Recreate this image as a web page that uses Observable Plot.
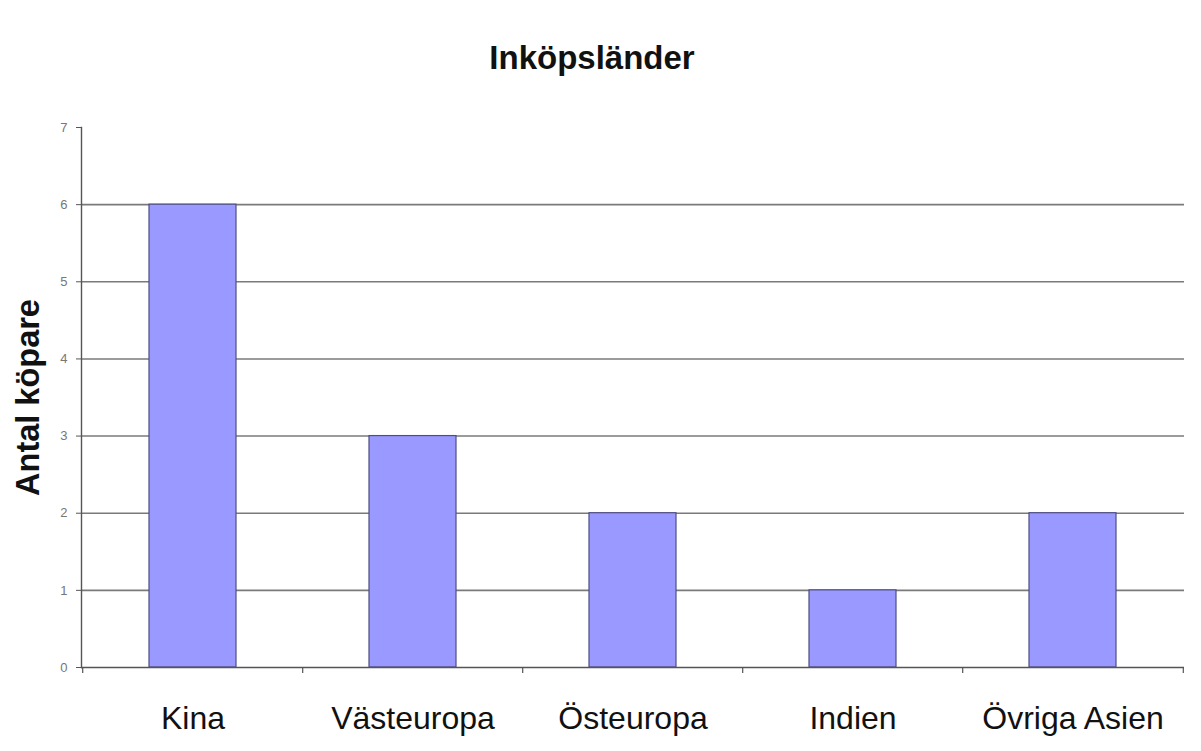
<!DOCTYPE html>
<html>
<head>
<meta charset="utf-8">
<script src="https://cdn.jsdelivr.net/npm/d3@7"></script>
<script src="https://cdn.jsdelivr.net/npm/@observablehq/plot@0.6"></script>
<style>
  html, body { margin: 0; padding: 0; background: #fff; }
  svg { display: block; }
</style>
</head>
<body>
<div id="chart"></div>
<script>
const categories = ["Kina", "Västeuropa", "Östeuropa", "Indien", "Övriga Asien"];
const values = [6, 3, 2, 1, 2];
const yTicks = [0, 1, 2, 3, 4, 5, 6, 7];
const gridLines = [1, 2, 3, 4, 5, 6];
const titleText = "Inköpsländer";
const yLabelText = "Antal köpare";

const data = categories.map((c, i) => ({category: c, value: values[i]}));

const W = 1201, H = 751;
const mL = 81, mR = 17, mT = 127, mB = 84;
const step = (W - mL - mR) / categories.length;
const font = "Liberation Sans, Arial, Helvetica, sans-serif";

const chart = Plot.plot({
  width: W,
  height: H,
  marginLeft: mL,
  marginRight: mR,
  marginTop: mT,
  marginBottom: mB,
  style: {fontFamily: font, background: "#fff", overflow: "visible"},
  x: {domain: categories, paddingInner: 0.605, paddingOuter: 0.3025},
  y: {domain: [0, 7]},
  marks: [
    Plot.ruleY(gridLines, {stroke: "#7a7a7a", strokeWidth: 1.6}),
    Plot.barY(data, {x: "category", y: "value", fill: "#9999ff", stroke: "#4d4d85", strokeWidth: 1.2}),
    Plot.ruleY([0], {stroke: "#555", strokeWidth: 1.4}),
    Plot.frame({anchor: "left", stroke: "#555", strokeWidth: 1.4}),
    Plot.ruleX(categories, {x: d => d, y1: 0, y2: 0, insetBottom: -6, dx: -step / 2, stroke: "#555", strokeWidth: 1.2}),
    Plot.ruleX(categories.slice(-1), {x: d => d, y1: 0, y2: 0, insetBottom: -6, dx: step / 2, stroke: "#555", strokeWidth: 1.2}),
    Plot.axisY({ticks: yTicks, tickSize: 5, tickPadding: 9, fontSize: 13, fill: "#777", stroke: "#555", label: null, tickFormat: d3.format("d")}),
    Plot.axisX({tickSize: 0, tickPadding: 39, fontSize: 32, fill: "#111", label: null}),
    Plot.text([titleText], {frameAnchor: "top", lineAnchor: "middle", dx: -41, dy: -69, fontSize: 33, fontWeight: "bold", fill: "#111"}),
    Plot.text([yLabelText], {frameAnchor: "left", textAnchor: "middle", lineAnchor: "middle", dx: -53, rotate: -90, fontSize: 32.5, fontWeight: "bold", fill: "#111"})
  ]
});

document.getElementById("chart").appendChild(chart);
</script>
</body>
</html>
